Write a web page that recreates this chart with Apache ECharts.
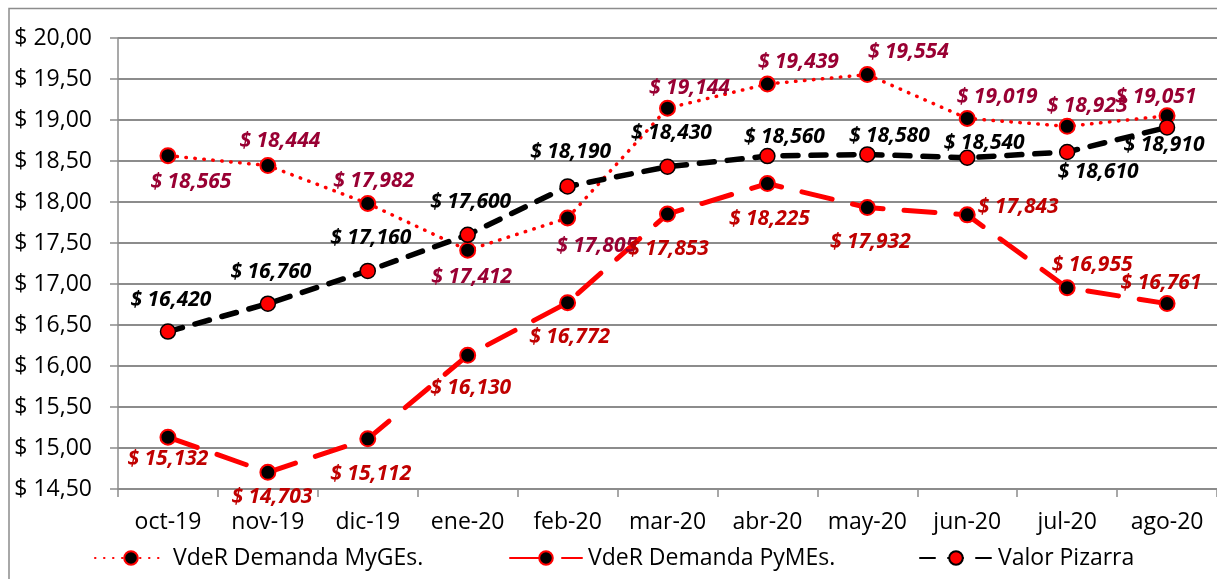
<!DOCTYPE html>
<html>
<head>
<meta charset="utf-8">
<script src="https://cdn.jsdelivr.net/npm/echarts@6/dist/echarts.min.js"></script>
<style>
  html, body { margin: 0; padding: 0; background: #fff; }
  #chart { width: 1217px; height: 579px; }
</style>
</head>
<body>
<div id="chart"></div>
<script>
const months = ['oct-19', 'nov-19', 'dic-19', 'ene-20', 'feb-20', 'mar-20', 'abr-20', 'may-20', 'jun-20', 'jul-20', 'ago-20'];

const mygesName = 'VdeR Demanda MyGEs.';
const pymesName = 'VdeR Demanda PyMEs.';
const pizarraName = 'Valor Pizarra';

const mygesValues = [18.565, 18.444, 17.982, 17.412, 17.805, 19.144, 19.439, 19.554, 19.019, 18.923, 19.051];
const pymesValues = [15.132, 14.703, 15.112, 16.130, 16.772, 17.853, 18.225, 17.932, 17.843, 16.955, 16.761];
const pizarraValues = [16.420, 16.760, 17.160, 17.600, 18.190, 18.430, 18.560, 18.580, 18.540, 18.610, 18.910];

const yMin = 14.5;
const yMax = 20;
const yStep = 0.5;

// where each data label sits relative to its point (label centre - point), px
const mygesLabelOffsets = [[23, 26], [12, -25], [6, -22], [4, 27], [29, 28], [22, -20], [31, -22], [41, -23], [30, -21], [20, -20], [-11, -19]];
const pymesLabelOffsets = [[0, 22], [4, 25], [3, 35], [3, 33], [2, 34], [1, 35], [2, 35], [3, 34], [51, -8], [25, -23], [-6, -21]];
const pizarraLabelOffsets = [[3, -32], [3, -32], [3, -33], [3, -33], [3, -34], [4, -34], [17, -19], [22, -18], [17, -15], [31, 20], [-3, 18]];

const FONT = '"Open Sans", "Noto Sans", sans-serif';
const GRID_COLOR = '#8c8c8c';

function money(v, digits) {
    return '$ ' + v.toFixed(digits).replace('.', ',');
}

function withLabels(values, offsets) {
    return values.map((v, i) => ({ value: v, label: { offset: offsets[i] } }));
}

function makeSeries(name, values, offsets, opts) {
    return {
        name: name,
        type: 'line',
        data: withLabels(values, offsets),
        symbol: 'circle',
        symbolSize: 15,
        lineStyle: opts.line,
        itemStyle: opts.item,
        emphasis: { disabled: true },
        label: {
            show: true,
            position: 'inside',
            align: 'center',
            verticalAlign: 'middle',
            fontFamily: FONT,
            fontSize: 21,
            fontWeight: 'bold',
            fontStyle: 'italic',
            color: opts.labelColor,
            formatter: p => money(p.value, 3)
        }
    };
}

function makeLegend(name, left) {
    return {
        data: [name],
        left: left,
        top: 545,
        padding: 0,
        itemWidth: 72,
        itemHeight: 17,
        itemGap: 0,
        selectedMode: false,
        textStyle: { fontFamily: FONT, fontSize: 23, color: '#000', lineHeight: 26, padding: [0, 0, 0, 1] }
    };
}

const chart = echarts.init(document.getElementById('chart'));

chart.setOption({
    backgroundColor: '#fff',
    animation: false,
    graphic: [{
        type: 'rect',
        shape: { x: 9, y: 8.5, width: 1400, height: 800 },
        style: { fill: 'none', stroke: GRID_COLOR, lineWidth: 1.5 },
        silent: true
    }],
    legend: [
        makeLegend(mygesName, 94),
        makeLegend(pymesName, 509),
        makeLegend(pizarraName, 919)
    ],
    grid: { left: 118, top: 38, width: 1100, height: 451 },
    xAxis: {
        type: 'category',
        data: months,
        boundaryGap: true,
        axisLine: { lineStyle: { color: GRID_COLOR, width: 1.5 } },
        axisTick: { show: true, length: 8, interval: 0, lineStyle: { color: GRID_COLOR, width: 1.5 } },
        axisLabel: { interval: 0, fontFamily: FONT, fontSize: 23, color: '#000', margin: 22 }
    },
    yAxis: {
        type: 'value',
        min: yMin,
        max: yMax,
        interval: yStep,
        axisLine: { show: true, lineStyle: { color: GRID_COLOR, width: 1.5 } },
        axisTick: { show: true, length: 8, lineStyle: { color: GRID_COLOR, width: 1.5 } },
        splitLine: { lineStyle: { color: GRID_COLOR, width: 1.8 } },
        axisLabel: {
            fontFamily: FONT,
            fontSize: 23,
            color: '#000',
            margin: 26,
            formatter: v => money(v, 2)
        }
    },
    series: [
        makeSeries(mygesName, mygesValues, mygesLabelOffsets, {
            line: { color: '#ff0000', width: 3.5, type: [0.5, 8.5], cap: 'round' },
            item: { color: '#000', borderColor: '#ff0000', borderWidth: 2 },
            labelColor: '#990033'
        }),
        makeSeries(pymesName, pymesValues, pymesLabelOffsets, {
            line: { color: '#ff0000', width: 5, type: [31, 21], cap: 'round' },
            item: { color: '#000', borderColor: '#ff0000', borderWidth: 2 },
            labelColor: '#c00000'
        }),
        makeSeries(pizarraName, pizarraValues, pizarraLabelOffsets, {
            line: { color: '#000', width: 5.5, type: [15, 13], cap: 'round' },
            item: { color: '#ff0000', borderColor: '#000', borderWidth: 1.5 },
            labelColor: '#000'
        })
    ]
});
</script>
</body>
</html>
